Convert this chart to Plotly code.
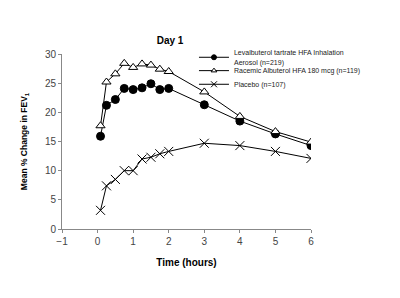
import plotly.graph_objects as go

time_h = [0.083, 0.25, 0.5, 0.75, 1.0, 1.25, 1.5, 1.75, 2.0, 3.0, 4.0, 5.0, 6.0]
levalbuterol = [15.9, 21.2, 22.2, 24.1, 23.9, 24.2, 24.9, 23.9, 24.1, 21.3, 18.5, 16.3, 14.3]
racemic = [17.7, 25.2, 26.6, 28.4, 27.7, 28.3, 28.1, 27.4, 27.0, 23.5, 19.3, 16.7, 14.9]
placebo = [3.2, 7.4, 8.5, 10.0, 10.0, 12.0, 12.3, 12.9, 13.3, 14.7, 14.3, 13.3, 12.1]

series_names = [
    "Levalbuterol tartrate HFA Inhalation<br>Aerosol (n=219)",
    "Racemic Albuterol HFA 180 mcg (n=119)",
    "Placebo (n=107)",
]
x_ticks = [-1, 0, 1, 2, 3, 4, 5, 6]
y_ticks = [0, 5, 10, 15, 20, 25, 30]

FONT = "Liberation Sans, Arial, sans-serif"

styles = [
    dict(symbol="circle", color="black"),
    dict(symbol="triangle-up", color="white"),
    dict(symbol="x-thin", color="black"),
]
data_sizes = [8, 8, 9]
legend_sizes = [5, 5, 6]
legend_ids = ["legend", "legend2", "legend3"]

fig = go.Figure()
for vals, st, ds in zip([levalbuterol, racemic, placebo], styles, data_sizes):
    fig.add_trace(go.Scatter(x=time_h, y=vals, mode="lines+markers", showlegend=False,
                             line=dict(color="black", width=1),
                             marker=dict(size=ds, line=dict(color="black", width=1), **st)))
for name, st, ls, lid in zip(series_names, styles, legend_sizes, legend_ids):
    fig.add_trace(go.Scatter(x=[None], y=[None], mode="lines+markers", name=name, legend=lid,
                             line=dict(color="black", width=1),
                             marker=dict(size=ls, line=dict(color="black", width=1), **st)))

leg_common = dict(x=0.53, xanchor="left", yanchor="middle", bgcolor="rgba(0,0,0,0)",
                  font=dict(size=7, color="#222", family=FONT), itemwidth=30, valign="middle")

fig.update_layout(
    width=400, height=298,
    margin=dict(l=62, r=89, t=54, b=69),
    paper_bgcolor="white", plot_bgcolor="white",
    font=dict(family=FONT, color="#333"),
    title=dict(text="<b>Day 1</b>", x=0.434, xref="paper", xanchor="center",
               y=1 - 40 / 298, yref="container", yanchor="middle",
               font=dict(size=10, color="black", family=FONT)),
    legend=dict(y=0.979, **leg_common),
    legend2=dict(y=0.905, **leg_common),
    legend3=dict(y=0.827, **leg_common),
    showlegend=True,
)
fig.update_xaxes(range=[-1, 6], tickvals=x_ticks, ticks="outside", ticklen=3,
                 tickcolor="#888", showline=True, linecolor="#888", linewidth=1,
                 showgrid=False, zeroline=False, tickfont=dict(size=10, color="#444"),
                 title=dict(text="<b>Time (hours)</b>", font=dict(size=10, color="black"), standoff=12))
fig.update_yaxes(range=[0, 30], tickvals=y_ticks, ticks="outside", ticklen=3,
                 tickcolor="#888", showline=True, linecolor="#888", linewidth=1,
                 showgrid=False, zeroline=False, tickfont=dict(size=10, color="#444"),
                 title=dict(text="<b>Mean % Change in FEV<sub>1</sub></b>",
                            font=dict(size=8.5, color="black"), standoff=15))

fig.write_html("out.html")
